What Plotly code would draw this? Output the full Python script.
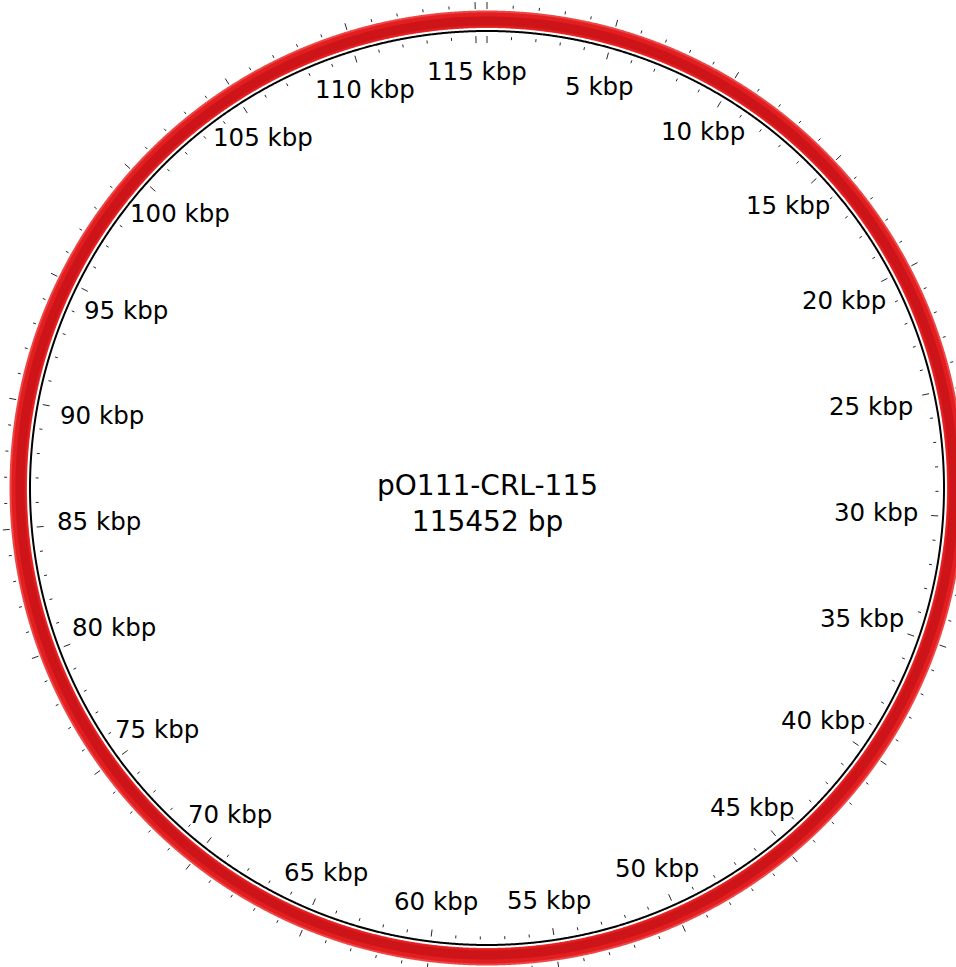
import numpy as np
import plotly.graph_objects as go

# ---- data ----
plasmid_name = "pO111-CRL-115"
seq_length_bp = 115452
label_kbp = [5, 10, 15, 20, 25, 30, 35, 40, 45, 50, 55, 60,
             65, 70, 75, 80, 85, 90, 95, 100, 105, 110, 115]
major_tick_bp = [0] + [k * 1000 for k in label_kbp]
minor_tick_bp = [k * 1000 for k in range(1, 116) if k % 5 != 0]

# ---- geometry (data units == pixels) ----
W, H = 956, 967
CX, CY = 487, 488          # pixel position of centre
R_RING_OUT = 477.5
R_RING_IN = 460
R_BACKBONE = 457


def polar(bp, r):
    th = 2 * np.pi * np.asarray(bp, dtype=float) / seq_length_bp
    return r * np.sin(th), r * np.cos(th)


fig = go.Figure()

circ = np.linspace(0, seq_length_bp, 3000)


def annulus(r_in, r_out, color):
    xo, yo = polar(circ, r_out)
    xi, yi = polar(circ[::-1], r_in)
    fig.add_trace(go.Scatter(x=np.concatenate([xo, xi]), y=np.concatenate([yo, yi]),
                             mode="lines", fill="toself", fillcolor=color,
                             line=dict(width=0, color=color, simplify=False),
                             hoverinfo="skip"))


# red feature ring: light rim, bright body, darker core
annulus(R_RING_IN, R_RING_OUT, "rgb(236,70,70)")
annulus(R_RING_IN + 0.5, R_RING_OUT - 2, "rgb(226,30,32)")
annulus(R_RING_IN + 2.5, R_RING_OUT - 6, "rgb(205,20,24)")

# backbone
x, y = polar(circ, R_BACKBONE)
fig.add_trace(go.Scatter(x=x, y=y, mode="lines",
                         line=dict(color="black", width=2, simplify=False),
                         hoverinfo="skip"))


# ticks
def tick_segments(bps, r0, r1):
    xs, ys = [], []
    for b in bps:
        xa, ya = polar(b, r0)
        xb, yb = polar(b, r1)
        xs += [xa, xb, None]
        ys += [ya, yb, None]
    return xs, ys


for bps, (ro0, ro1), (ri0, ri1) in [
    (minor_tick_bp, (480, 483), (448.5, 451.5)),
    (major_tick_bp, (479, 486), (445, 452)),
]:
    for r0, r1 in [(ro0, ro1), (ri0, ri1)]:
        xs, ys = tick_segments(bps, r0, r1)
        fig.add_trace(go.Scatter(x=xs, y=ys, mode="lines",
                                 line=dict(color="rgb(40,40,40)", width=1),
                                 hoverinfo="skip"))

# tick labels
for k in label_kbp:
    th = 2 * np.pi * k * 1000 / seq_length_bp
    d = 417 - 28 * abs(np.sin(th)) ** 6
    lx, ly = polar(k * 1000, d)
    fig.add_annotation(x=float(lx), y=float(ly), text=f"{k} kbp",
                       showarrow=False, xanchor="center", yanchor="middle",
                       font=dict(family="DejaVu Sans", size=24.5, color="black"))

# centre title
fig.add_annotation(x=0, y=CY - 503, text=f"{plasmid_name}<br>{seq_length_bp} bp",
                   showarrow=False, xanchor="center", yanchor="middle",
                   font=dict(family="DejaVu Sans", size=28, color="black"))

fig.update_layout(
    width=W, height=H,
    margin=dict(l=0, r=0, t=0, b=0),
    paper_bgcolor="white", plot_bgcolor="white",
    showlegend=False, hovermode=False,
    xaxis=dict(range=[-CX, W - CX], visible=False, fixedrange=True),
    yaxis=dict(range=[CY - H, CY], visible=False, fixedrange=True),
)

fig.write_html("out.html")
